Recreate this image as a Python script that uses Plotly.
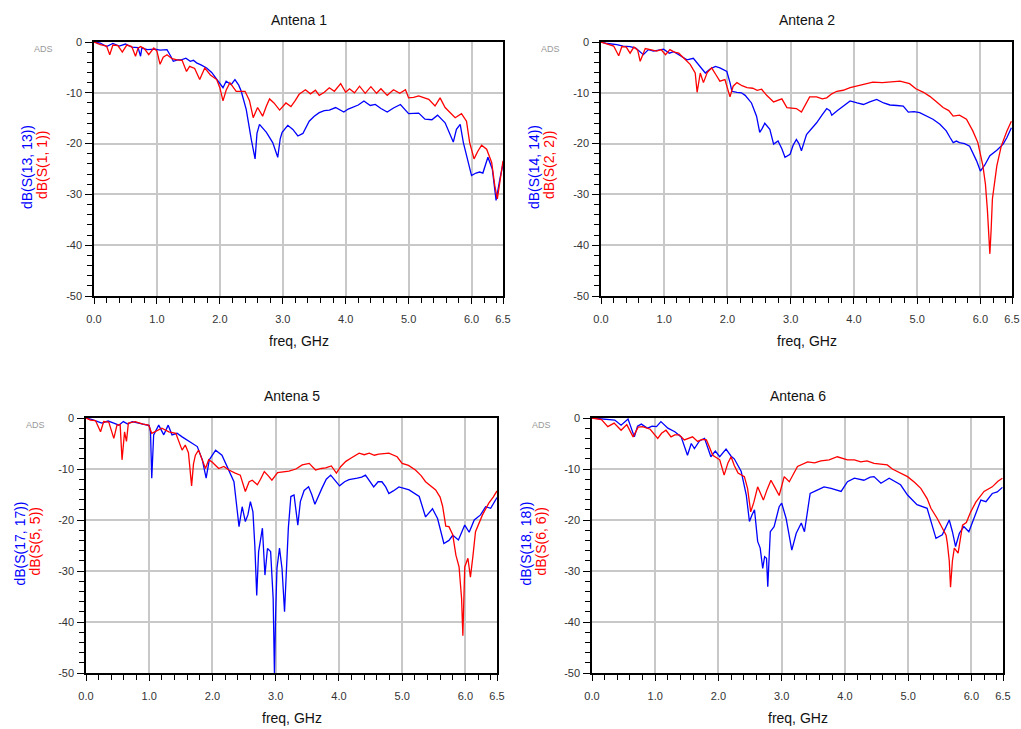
import plotly.graph_objects as go

# ---------------- data (freq in GHz, values in dB) ----------------
titles = ["Antena 1", "Antena 2", "Antena 5", "Antena 6"]
blue_names = ["dB(S(13, 13))", "dB(S(14, 14))", "dB(S(17, 17))", "dB(S(18, 18))"]
red_names = ["dB(S(1, 1))", "dB(S(2, 2))", "dB(S(5, 5))", "dB(S(6, 6))"]
x_tick_vals = [0, 1, 2, 3, 4, 5, 6, 6.5]
x_tick_text = ["0.0", "1.0", "2.0", "3.0", "4.0", "5.0", "6.0", "6.5"]
y_tick_vals = [0, -10, -20, -30, -40, -50]
y_tick_text = ["0", "-10", "-20", "-30", "-40", "-50"]

# Antena 1
a1_red_f = [0.0, 0.1, 0.2, 0.25, 0.3, 0.38, 0.45, 0.52, 0.6, 0.66, 0.7, 0.74, 0.8, 0.87, 0.95, 1.0, 1.05, 1.1, 1.16, 1.24,
            1.32, 1.4, 1.47, 1.52, 1.6, 1.68, 1.76, 1.85, 1.95, 2.0, 2.05, 2.1, 2.16, 2.22, 2.26, 2.33, 2.4, 2.47, 2.53, 2.6,
            2.68, 2.74, 2.79, 2.86, 2.95, 3.05, 3.13, 3.2, 3.26, 3.36, 3.44, 3.52, 3.58, 3.66, 3.74, 3.82, 3.92, 4.0, 4.06,
            4.14, 4.22, 4.31, 4.4, 4.49, 4.56, 4.66, 4.76, 4.86, 4.95, 5.0, 5.08, 5.16, 5.24, 5.32, 5.42, 5.5, 5.58, 5.66,
            5.74, 5.84, 5.92, 5.97, 6.04, 6.1, 6.16, 6.24, 6.32, 6.37, 6.41, 6.45, 6.5]
a1_red_db = [0, -0.5, -0.8, -2.5, -0.6, -0.7, -2.0, -0.6, -0.9, -2.8, -1.2, -0.9, -1.3, -2.5, -1.2, -1.8, -4.4, -3.0, -2.5, -3.3,
             -3.5, -3.6, -5.8, -4.8, -5.2, -7.4, -5.1, -6.5, -7.4, -9.0, -11.6, -9.5, -8.0, -8.9, -9.7, -9.7, -9.7, -11.5, -14.9, -12.9,
             -14.6, -12.6, -11.2, -12.0, -13.4, -12.0, -12.7, -11.5, -10.3, -9.4, -10.2, -9.5, -10.5, -9.9, -9.0, -9.7, -8.2, -9.9, -9.2,
             -10.0, -8.7, -10.1, -8.8, -10.1, -9.2, -10.5, -9.4, -10.1, -9.4, -11.0, -10.9, -10.6, -11.0, -11.3, -12.6, -11.0, -12.9, -14.0,
             -14.9, -14.1, -15.6, -19.8, -23.0, -21.5, -20.3, -21.1, -23.7, -28.3, -30.9, -27.6, -23.4]
a1_blue_f = [0.0, 0.1, 0.2, 0.3, 0.4, 0.5, 0.6, 0.7, 0.74, 0.76, 0.85, 0.97, 1.05, 1.16, 1.22, 1.26, 1.33, 1.39, 1.46, 1.53,
             1.58, 1.63, 1.7, 1.79, 1.87, 1.95, 2.05, 2.1, 2.18, 2.24, 2.3, 2.34, 2.42, 2.5, 2.56, 2.59, 2.63, 2.74, 2.84, 2.92,
             2.96, 2.99, 3.08, 3.16, 3.24, 3.32, 3.42, 3.5, 3.58, 3.66, 3.74, 3.84, 3.92, 3.97, 4.04, 4.11, 4.2, 4.29, 4.39, 4.47,
             4.56, 4.66, 4.76, 4.87, 4.95, 5.0, 5.16, 5.26, 5.37, 5.46, 5.58, 5.65, 5.71, 5.76, 5.82, 5.87, 5.93, 6.0, 6.07, 6.13,
             6.18, 6.26, 6.33, 6.39, 6.45, 6.5]
a1_blue_db = [0, -0.2, -0.9, -0.3, -0.8, -0.4, -1.0, -1.1, -2.8, -1.2, -1.5, -1.4, -1.6, -1.5, -2.8, -3.8, -3.5, -3.5, -3.2, -3.8,
              -3.6, -4.1, -4.5, -5.1, -6.0, -7.4, -9.0, -7.7, -8.4, -7.4, -8.5, -9.7, -13.3, -19.2, -23.0, -18.0, -16.2, -17.8, -19.8, -22.7,
              -19.0, -17.8, -16.4, -17.2, -18.5, -18.0, -15.6, -14.6, -13.9, -13.5, -13.4, -12.9, -13.5, -13.8, -13.2, -12.8, -12.4, -11.6, -12.5, -12.3,
              -13.1, -13.8, -13.0, -12.3, -13.3, -14.1, -14.0, -15.2, -15.3, -14.4, -15.9, -17.8, -19.7, -17.2, -16.2, -19.8, -23.0, -26.3, -25.8, -25.6,
              -25.8, -22.7, -25.0, -31.2, -27.0, -24.0]

# Antena 2
a2_red_f = [0.0, 0.1, 0.2, 0.28, 0.33, 0.4, 0.46, 0.52, 0.58, 0.62, 0.65, 0.7, 0.78, 0.88, 0.95, 1.02, 1.09, 1.16, 1.23, 1.31,
            1.41, 1.49, 1.52, 1.57, 1.62, 1.68, 1.75, 1.82, 1.88, 1.96, 2.04, 2.09, 2.15, 2.23, 2.31, 2.4, 2.47, 2.54, 2.62, 2.73,
            2.8, 2.86, 2.94, 3.01, 3.09, 3.17, 3.24, 3.3, 3.41, 3.5, 3.57, 3.65, 3.73, 3.83, 3.94, 4.1, 4.2, 4.3, 4.45, 4.57,
            4.73, 4.88, 4.98, 5.1, 5.2, 5.3, 5.41, 5.5, 5.57, 5.67, 5.78, 5.88, 5.96, 6.04, 6.08, 6.11, 6.15, 6.17, 6.19, 6.26,
            6.33, 6.42, 6.49]
a2_red_db = [0, -0.4, -0.8, -2.7, -0.9, -1.0, -2.2, -1.0, -1.6, -3.8, -2.8, -1.3, -1.5, -1.8, -1.5, -2.5, -1.5, -2.0, -2.2, -3.1,
             -4.4, -6.1, -9.9, -6.1, -8.0, -6.0, -5.1, -6.5, -7.7, -7.4, -10.8, -8.7, -8.0, -8.6, -9.0, -9.1, -9.5, -9.3, -10.5, -11.8,
             -11.5, -11.2, -12.9, -13.0, -13.1, -13.8, -12.0, -10.8, -10.8, -11.2, -11.0, -10.2, -9.7, -9.5, -9.0, -8.5, -8.2, -7.9, -8.0, -7.9,
             -7.7, -8.2, -9.2, -9.9, -10.7, -11.7, -12.9, -13.5, -14.6, -14.4, -15.2, -17.5, -19.8, -24.4, -28.0, -32.9, -41.7, -37.0, -30.9, -24.4,
             -20.5, -17.5, -15.6]
a2_blue_f = [0.0, 0.1, 0.25, 0.35, 0.46, 0.55, 0.67, 0.75, 0.83, 0.91, 0.99, 1.08, 1.15, 1.23, 1.3, 1.36, 1.46, 1.55, 1.65, 1.73,
             1.81, 1.88, 1.99, 2.04, 2.07, 2.15, 2.22, 2.28, 2.38, 2.46, 2.51, 2.55, 2.59, 2.67, 2.73, 2.8, 2.86, 2.91, 2.99, 3.04,
             3.09, 3.13, 3.17, 3.25, 3.33, 3.41, 3.5, 3.57, 3.62, 3.65, 3.74, 3.83, 3.94, 4.05, 4.15, 4.25, 4.36, 4.47, 4.57, 4.68,
             4.78, 4.86, 4.95, 5.04, 5.15, 5.25, 5.36, 5.46, 5.52, 5.57, 5.62, 5.67, 5.75, 5.83, 5.94, 6.0, 6.07, 6.15, 6.26, 6.36,
             6.42, 6.49]
a2_blue_db = [0, -0.3, -0.5, -0.8, -0.9, -1.2, -2.5, -1.5, -1.8, -1.6, -1.4, -2.2, -1.9, -2.5, -3.0, -3.5, -3.2, -4.6, -6.1, -5.3,
              -4.8, -5.1, -5.8, -8.0, -9.7, -9.9, -10.0, -10.5, -12.0, -14.6, -17.8, -17.0, -16.0, -17.2, -20.1, -19.5, -21.0, -22.7, -22.1, -20.3,
              -19.2, -20.0, -21.4, -18.2, -17.0, -15.9, -14.3, -13.1, -13.5, -14.4, -13.5, -12.6, -11.6, -12.0, -12.3, -11.8, -11.3, -12.0, -12.4, -12.5,
              -12.6, -13.8, -13.7, -13.9, -14.5, -15.2, -16.2, -17.5, -18.8, -19.8, -19.5, -19.8, -20.0, -20.5, -23.4, -25.4, -24.2, -22.4, -21.3, -20.1,
              -18.8, -16.9]

# Antena 5
a5_red_f = [0.0, 0.07, 0.15, 0.23, 0.28, 0.36, 0.44, 0.49, 0.54, 0.57, 0.61, 0.64, 0.67, 0.78, 0.9, 0.99, 1.04, 1.12, 1.2, 1.31,
            1.42, 1.52, 1.57, 1.62, 1.67, 1.7, 1.73, 1.78, 1.85, 1.89, 1.94, 1.99, 2.05, 2.1, 2.18, 2.26, 2.36, 2.44, 2.52, 2.58,
            2.63, 2.71, 2.76, 2.82, 2.88, 2.94, 3.03, 3.12, 3.21, 3.32, 3.42, 3.53, 3.63, 3.72, 3.79, 3.88, 3.96, 4.03, 4.11, 4.2,
            4.32, 4.4, 4.48, 4.56, 4.63, 4.79, 4.92, 5.0, 5.1, 5.21, 5.3, 5.37, 5.45, 5.53, 5.6, 5.64, 5.69, 5.74, 5.8, 5.85,
            5.9, 5.94, 5.96, 5.99, 6.04, 6.08, 6.12, 6.16, 6.27, 6.37, 6.44, 6.5]
a5_red_db = [0, -0.4, -0.5, -2.7, -0.7, -0.8, -4.0, -1.4, -1.3, -8.2, -2.7, -4.6, -1.0, -0.7, -1.2, -1.4, -3.0, -2.5, -2.0, -2.7,
             -3.0, -6.3, -5.3, -6.8, -13.3, -9.0, -7.3, -6.3, -8.5, -9.9, -8.2, -8.6, -9.3, -9.9, -9.5, -10.2, -10.8, -11.2, -14.4, -12.5,
             -12.2, -13.1, -12.0, -10.5, -11.3, -12.2, -10.7, -10.6, -10.4, -10.0, -9.2, -8.9, -10.2, -9.9, -9.8, -9.4, -10.8, -9.5, -8.5, -7.8,
             -6.9, -7.2, -6.9, -7.3, -7.1, -6.9, -7.6, -8.9, -9.3, -10.2, -11.3, -12.5, -13.3, -14.1, -15.5, -17.3, -21.2, -21.3, -22.9, -26.9,
             -29.2, -35.4, -42.7, -29.2, -27.5, -31.2, -27.0, -22.3, -19.0, -16.7, -15.5, -14.3]
a5_blue_f = [0.0, 0.1, 0.25, 0.35, 0.44, 0.52, 0.59, 0.66, 0.73, 0.82, 0.91, 1.0, 1.02, 1.04, 1.07, 1.15, 1.23, 1.3, 1.36, 1.44,
             1.52, 1.63, 1.7, 1.76, 1.84, 1.9, 1.95, 2.05, 2.15, 2.22, 2.26, 2.34, 2.39, 2.42, 2.47, 2.52, 2.56, 2.6, 2.64, 2.67,
             2.7, 2.73, 2.79, 2.83, 2.87, 2.92, 2.96, 2.98, 3.0, 3.02, 3.06, 3.1, 3.14, 3.17, 3.2, 3.24, 3.29, 3.35, 3.39, 3.45,
             3.52, 3.57, 3.62, 3.73, 3.8, 3.87, 3.95, 4.01, 4.09, 4.16, 4.29, 4.36, 4.42, 4.55, 4.62, 4.68, 4.74, 4.79, 4.86, 4.95,
             5.11, 5.27, 5.37, 5.48, 5.56, 5.66, 5.74, 5.8, 5.89, 5.95, 5.99, 6.06, 6.14, 6.24, 6.32, 6.4, 6.5]
a5_blue_db = [0, -0.3, -1.0, -0.6, -1.0, -1.4, -0.7, -1.2, -0.7, -1.0, -1.2, -1.5, -2.7, -11.8, -3.3, -1.4, -3.3, -1.4, -3.3, -3.0,
              -3.7, -4.6, -5.0, -5.6, -8.2, -11.8, -8.2, -6.3, -7.3, -9.2, -10.5, -12.5, -18.0, -21.3, -17.4, -20.3, -19.0, -16.4, -18.4, -25.0,
              -34.8, -26.2, -21.6, -30.8, -25.6, -26.2, -35.4, -50.0, -38.0, -29.5, -25.5, -29.5, -38.0, -28.8, -21.6, -15.4, -15.1, -21.0, -16.4, -14.2,
              -13.5, -15.0, -16.9, -13.8, -12.0, -11.2, -12.3, -13.3, -12.5, -12.1, -11.8, -11.6, -11.2, -13.5, -12.5, -12.5, -13.5, -14.8, -14.3, -13.5,
              -14.1, -15.4, -19.4, -17.8, -19.7, -24.6, -24.0, -23.0, -23.9, -22.0, -21.0, -22.4, -20.0, -19.0, -17.4, -17.7, -15.6]

# Antena 6
a6_red_f = [0.0, 0.15, 0.25, 0.35, 0.46, 0.55, 0.65, 0.73, 0.8, 0.92, 1.04, 1.1, 1.17, 1.25, 1.31, 1.38, 1.46, 1.52, 1.59, 1.67,
            1.74, 1.81, 1.91, 2.02, 2.09, 2.15, 2.2, 2.25, 2.31, 2.41, 2.46, 2.51, 2.56, 2.62, 2.71, 2.77, 2.83, 2.9, 2.96, 3.04,
            3.12, 3.25, 3.41, 3.52, 3.62, 3.75, 3.88, 4.04, 4.15, 4.25, 4.35, 4.46, 4.57, 4.67, 4.75, 4.83, 4.99, 5.1, 5.2, 5.3,
            5.36, 5.46, 5.54, 5.6, 5.62, 5.65, 5.67, 5.7, 5.73, 5.79, 5.86, 5.92, 5.99, 6.07, 6.2, 6.33, 6.42, 6.49]
a6_red_db = [0, -0.3, -1.7, -1.0, -2.4, -1.3, -3.7, -1.8, -1.7, -2.2, -4.0, -3.0, -2.4, -3.7, -3.3, -3.3, -4.3, -4.0, -3.7, -4.6,
             -4.2, -4.3, -7.3, -8.2, -11.2, -8.8, -7.6, -9.3, -10.8, -11.5, -13.8, -18.4, -16.5, -13.5, -16.1, -14.0, -12.2, -13.8, -15.2, -11.5,
             -12.5, -9.5, -8.6, -8.8, -8.4, -8.2, -7.6, -8.2, -8.2, -8.6, -8.4, -8.9, -9.1, -9.2, -10.0, -10.5, -11.5, -12.6, -13.8, -15.8,
             -17.7, -19.7, -21.6, -23.0, -24.6, -28.0, -33.2, -28.0, -25.5, -26.5, -21.0, -20.5, -18.4, -16.5, -14.4, -13.5, -12.4, -11.8]
a6_blue_f = [0.0, 0.1, 0.2, 0.36, 0.46, 0.57, 0.67, 0.72, 0.78, 0.88, 0.95, 1.02, 1.09, 1.2, 1.31, 1.41, 1.51, 1.57, 1.62, 1.7,
             1.78, 1.88, 1.95, 2.02, 2.12, 2.2, 2.25, 2.36, 2.44, 2.49, 2.53, 2.57, 2.62, 2.66, 2.7, 2.73, 2.76, 2.78, 2.82, 2.88,
             2.96, 3.0, 3.07, 3.16, 3.23, 3.31, 3.36, 3.41, 3.45, 3.57, 3.67, 3.78, 3.94, 4.04, 4.15, 4.3, 4.4, 4.46, 4.57, 4.7,
             4.8, 4.88, 4.99, 5.14, 5.3, 5.38, 5.44, 5.54, 5.65, 5.7, 5.75, 5.81, 5.88, 5.96, 6.07, 6.15, 6.23, 6.33, 6.41, 6.49]
a6_blue_db = [0, -0.1, -0.2, -0.4, -1.4, -0.2, -3.7, -1.6, -1.2, -2.0, -1.6, -1.7, -0.7, -2.0, -2.7, -3.7, -7.3, -5.0, -6.0, -4.5,
              -4.0, -7.6, -6.5, -7.6, -6.1, -7.5, -8.0, -10.5, -15.1, -20.3, -19.0, -18.0, -24.2, -25.5, -29.5, -27.2, -27.5, -33.1, -22.3, -21.3,
              -17.4, -16.7, -19.7, -25.9, -22.6, -20.6, -22.3, -18.0, -14.8, -14.1, -13.5, -13.8, -14.4, -12.5, -11.8, -12.2, -11.6, -11.5, -12.8, -11.8,
              -12.6, -13.1, -15.1, -17.0, -17.7, -21.0, -23.6, -22.9, -20.0, -22.3, -25.2, -22.6, -21.3, -22.3, -18.7, -16.1, -16.4, -14.8, -14.5, -13.6]

blue_f = [a1_blue_f, a2_blue_f, a5_blue_f, a6_blue_f]
blue_db = [a1_blue_db, a2_blue_db, a5_blue_db, a6_blue_db]
red_f = [a1_red_f, a2_red_f, a5_red_f, a6_red_f]
red_db = [a1_red_db, a2_red_db, a5_red_db, a6_red_db]

# ---------------- layout (pixel geometry) ----------------
W, H = 1021, 729
# plot boxes in pixels: (left, right, top, bottom)
boxes = [(94, 503, 42, 296), (601, 1012, 42, 296), (86, 497, 418, 673), (592, 1003, 418, 673)]


def px(xp):
    return xp / W


def py(yp):
    return 1 - yp / H


BLUE = "#0000ff"
RED = "#ff0000"
GRID = "#c8c8c8"
TICKFONT = dict(family="Liberation Sans, Arial, sans-serif", size=11, color="#333333")
TEXTFONT = "Liberation Sans, Arial, sans-serif"

fig = go.Figure()
annotations = []
layout_axes = {}

for i in range(4):
    l, r, t, b = boxes[i]
    xn = "x" if i == 0 else f"x{i+1}"
    yn = "y" if i == 0 else f"y{i+1}"
    xkey = "xaxis" if i == 0 else f"xaxis{i+1}"
    ykey = "yaxis" if i == 0 else f"yaxis{i+1}"

    fig.add_trace(go.Scatter(x=blue_f[i], y=blue_db[i], mode="lines", line=dict(color=BLUE, width=1.3),
                             xaxis=xn, yaxis=yn, showlegend=False, hoverinfo="skip"))
    fig.add_trace(go.Scatter(x=red_f[i], y=red_db[i], mode="lines", line=dict(color=RED, width=1.3),
                             xaxis=xn, yaxis=yn, showlegend=False, hoverinfo="skip"))

    layout_axes[xkey] = dict(
        domain=[px(l), px(r)], anchor=yn, range=[0, 6.5], tickmode="array", automargin=False,
        tickvals=x_tick_vals, ticktext=x_tick_text, ticks="outside", ticklen=6, tickwidth=1.2, tickcolor="#000",
        showline=True, linecolor="#000", linewidth=1.5, mirror=True,
        showgrid=True, gridcolor=GRID, gridwidth=1.5, zeroline=False,
        tickfont=TICKFONT, ticklabelstandoff=6,
        minor=dict(dtick=0.2, tick0=0, ticks="outside", ticklen=5, tickwidth=1.2, tickcolor="#000", showgrid=False),
    )
    layout_axes[ykey] = dict(
        domain=[py(b), py(t)], anchor=xn, range=[-50, 0], tickmode="array", automargin=False,
        tickvals=y_tick_vals, ticktext=y_tick_text, ticks="outside", ticklen=7, tickwidth=1.2, tickcolor="#000",
        showline=True, linecolor="#000", linewidth=1.5, mirror=True,
        showgrid=True, gridcolor=GRID, gridwidth=1.5, zeroline=False,
        tickfont=TICKFONT, ticklabelstandoff=1,
        minor=dict(dtick=2, tick0=0, ticks="outside", ticklen=5, tickwidth=1.2, tickcolor="#000", showgrid=False),
    )

    cx = (l + r) / 2
    cy = (t + b) / 2
    annotations.append(dict(text=titles[i], x=px(cx), y=py(t - 22), xref="paper", yref="paper",
                            showarrow=False, font=dict(family=TEXTFONT, size=14, color="#111"),
                            xanchor="center", yanchor="middle"))
    annotations.append(dict(text="freq, GHz", x=px(cx), y=py(b + 45), xref="paper", yref="paper",
                            showarrow=False, font=dict(family=TEXTFONT, size=14, color="#111"),
                            xanchor="center", yanchor="middle"))
    annotations.append(dict(text=blue_names[i], x=px(l - 67), y=py(cy - 2), xref="paper", yref="paper",
                            showarrow=False, textangle=-90, font=dict(family=TEXTFONT, size=14, color=BLUE),
                            xanchor="center", yanchor="middle"))
    annotations.append(dict(text=red_names[i], x=px(l - 52), y=py(cy - 4), xref="paper", yref="paper",
                            showarrow=False, textangle=-90, font=dict(family=TEXTFONT, size=14, color=RED),
                            xanchor="center", yanchor="middle"))
    annotations.append(dict(text="ADS", x=px(l - 51), y=py(t + 7), xref="paper", yref="paper",
                            showarrow=False, font=dict(family=TEXTFONT, size=9, color="#999999"),
                            xanchor="center", yanchor="middle"))

fig.update_layout(
    width=W, height=H, margin=dict(l=0, r=0, t=0, b=0, autoexpand=False),
    paper_bgcolor="white", plot_bgcolor="white",
    annotations=annotations, **layout_axes,
)

fig.write_html("out.html")
